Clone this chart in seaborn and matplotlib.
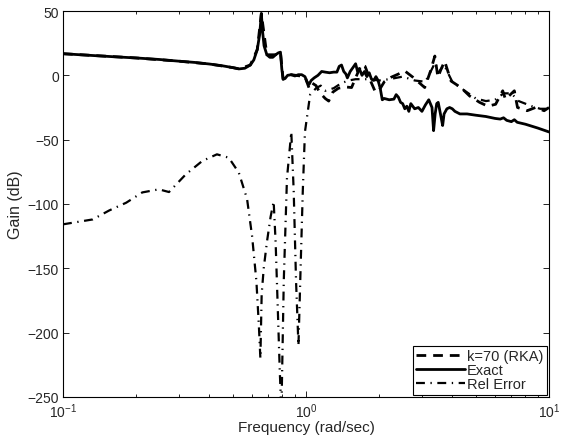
import numpy as np
import pandas as pd
import matplotlib
matplotlib.use("Agg")
import matplotlib.pyplot as plt
import seaborn as sns
from matplotlib.ticker import LogLocator, NullFormatter

# ---- data ----
exact_f = [0.1, 0.13, 0.16, 0.2, 0.25, 0.3, 0.35, 0.4, 0.45, 0.5, 0.53, 0.56, 0.59, 0.61,
           0.63, 0.645, 0.655, 0.662, 0.672, 0.69, 0.71, 0.73, 0.75, 0.77, 0.785, 0.795,
           0.805, 0.82, 0.84, 0.87, 0.9, 0.93, 0.96, 0.99, 1.01, 1.03, 1.05, 1.08, 1.12,
           1.16, 1.2, 1.25, 1.3, 1.34, 1.37, 1.4, 1.43, 1.46, 1.48, 1.52, 1.56, 1.6, 1.63,
           1.66, 1.7, 1.74, 1.78, 1.82, 1.86, 1.9, 1.94, 1.98, 2.02, 2.06, 2.1, 2.2, 2.3,
           2.35, 2.4, 2.45, 2.5, 2.55, 2.6, 2.65, 2.7, 2.8, 2.9, 3.0, 3.1, 3.2, 3.3, 3.35,
           3.4, 3.45, 3.5, 3.55, 3.6, 3.65, 3.7, 3.8, 3.9, 4.0, 4.1, 4.3, 4.6, 5.0, 5.5,
           6.0, 6.3, 6.5, 6.7, 7.0, 7.2, 7.4, 8.0, 9.0, 10.0]
exact_db = [16.8, 15.5, 14.5, 13.5, 12.3, 11.0, 10.0, 8.8, 7.5, 6.0, 5.0, 5.5, 8.0, 12.0,
            20.0, 32.0, 48.0, 35.0, 23.0, 16.0, 14.0, 14.0, 16.0, 17.5, 18.0, 5.0,
            -3.0, -2.5, 0.0, 0.5, -0.5, 0.5, 0.5, -1.0, -5.0, -7.0, -4.0, -2.0, 0.0,
            3.0, 2.5, 2.0, 2.5, 2.5, 7.0, 8.0, 3.0, 1.0, -2.0, 3.0, 6.0, 9.0, 3.0,
            5.0, 0.0, 3.0, -1.0, 2.0, -3.0, -4.0, -1.0, -4.0, -10.0, -19.0, -18.0, -19.0, -18.5,
            -15.0, -17.0, -21.0, -22.0, -26.0, -24.0, -28.0, -22.0, -26.0, -25.0, -28.0, -23.0, -19.0, -25.0, -43.0,
            -30.0, -22.0, -21.0, -27.0, -33.0, -39.0, -30.0, -26.0, -25.0, -26.0, -28.0, -30.0, -30.0, -31.0, -32.0,
            -33.5, -34.0, -33.0, -35.0, -36.0, -34.5, -36.5, -38.0, -41.0, -44.0]

rka_f = [0.1, 0.2, 0.3, 0.4, 0.5, 0.53, 0.59, 0.63, 0.655, 0.69, 0.75, 0.785, 0.805, 0.87,
         0.99, 1.03, 1.06, 1.1, 1.14, 1.2, 1.24, 1.29, 1.36, 1.45, 1.54, 1.6, 1.69, 1.75,
         1.85, 1.92, 1.98, 2.1, 2.24, 2.4, 2.55, 2.76, 3.08, 3.25, 3.39, 3.49, 3.6, 3.72,
         3.95, 4.34, 4.71, 5.18, 5.6, 6.03, 6.45, 6.62, 7.2, 7.42, 8.13, 8.8, 9.55, 10.0]
rka_db = [16.8, 13.5, 11.0, 8.8, 6.0, 5.0, 8.0, 20.0, 48.0, 16.0, 16.0, 18.0, -3.0, 0.5,
          -1.0, -10.0, -6.0, -8.0, -13.5, -18.0, -20.0, -13.0, -10.0, -9.0, -9.5, -2.0, 8.5, 7.0,
          -5.0, -12.0, -13.0, -5.0, -1.5, 1.0, 3.4, -1.6, -9.5, 3.0, 15.0, -1.5, 5.0, 11.0,
          -4.4, -9.5, -16.0, -21.0, -24.0, -22.5, -12.0, -18.6, -12.0, -25.0, -27.5, -25.0, -27.5, -25.0]

err_f = [0.1, 0.1325, 0.155, 0.182, 0.212, 0.248, 0.273, 0.32, 0.374, 0.43, 0.481, 0.529,
         0.572, 0.6, 0.625, 0.64, 0.649, 0.657, 0.67, 0.69, 0.715, 0.736, 0.75, 0.765,
         0.78, 0.792, 0.81, 0.835, 0.87, 0.89, 0.91, 0.931, 0.95, 0.97, 0.99, 1.04, 1.1,
         1.15, 1.2, 1.3, 1.4, 1.5, 1.6, 1.8, 2.0, 2.2, 2.5, 2.8, 3.1, 3.3, 3.4, 3.5, 3.7,
         4.0, 4.5, 5.0, 5.5, 6.0, 6.5, 7.0, 7.5, 8.5, 9.2, 10.0]
err_db = [-115.8, -112.0, -105.0, -99.0, -91.0, -88.6, -90.7, -77.0, -66.6, -61.4, -64.0, -75.6,
          -96.0, -125.0, -160.0, -195.0, -220.0, -170.0, -150.0, -130.0, -110.0, -98.0, -130.0, -180.0,
          -230.0, -262.0, -160.0, -80.0, -44.0, -90.0, -160.0, -210.0, -150.0, -90.0, -44.0, -15.0, -10.0,
          -8.0, -12.0, -10.0, -6.0, -4.0, -3.0, -3.0, -4.0, -3.0, -1.0, -4.0, -5.0, 5.0, 10.0, 2.0, 8.0,
          -5.0, -12.0, -18.0, -20.0, -19.0, -14.0, -14.0, -20.0, -24.0, -26.0, -26.0]

labels = ["k=70 (RKA)", "Exact", "Rel Error"]
xticks = [0.1, 1, 10]
yticks = [50, 0, -50, -100, -150, -200, -250]

# ---- style ----
sns.set_style("ticks")
plt.rcParams["font.family"] = ["Liberation Sans", "DejaVu Sans"]
plt.rcParams["mathtext.fontset"] = "custom"
plt.rcParams["mathtext.rm"] = "Liberation Sans"
plt.rcParams["mathtext.it"] = "Liberation Sans"
plt.rcParams["mathtext.default"] = "regular"

fig = plt.figure(figsize=(5.63, 4.39), dpi=100)
ax = fig.add_axes([63 / 563, 1 - 398 / 439, (549 - 63) / 563, (398 - 12) / 439])

df_exact = pd.DataFrame({"f": exact_f, "g": exact_db})
df_rka = pd.DataFrame({"f": rka_f, "g": rka_db})
df_err = pd.DataFrame({"f": err_f, "g": err_db})

sns.lineplot(data=df_rka, x="f", y="g", ax=ax, color="black", lw=2.0,
             estimator=None, sort=False)
sns.lineplot(data=df_exact, x="f", y="g", ax=ax, color="black", lw=2.0,
             estimator=None, sort=False)
sns.lineplot(data=df_err, x="f", y="g", ax=ax, color="black", lw=1.6,
             estimator=None, sort=False)
lines = ax.get_lines()
lines[0].set_dashes((3.5, 2.5))
lines[2].set_dashes((4, 2.5, 0.6, 2.5))

ax.set_xscale("log")
ax.set_xlim(0.1, 10)
ax.set_ylim(-250, 50)
ax.set_xticks(xticks)
ax.xaxis.set_minor_locator(LogLocator(base=10, subs=np.arange(2, 10)))
ax.xaxis.set_minor_formatter(NullFormatter())
ax.set_yticks(yticks)
ax.set_yticklabels([str(v).replace("-", "\u2212") for v in yticks])

ax.tick_params(which="both", direction="in", top=True, right=True, labelsize=10,
               width=0.6, color="black", pad=3)
ax.tick_params(which="major", length=4)
ax.tick_params(which="minor", length=2)
for s in ax.spines.values():
    s.set_linewidth(0.8)
    s.set_color("black")

ax.set_xlabel("Frequency (rad/sec)", fontsize=11, labelpad=0)
ax.set_ylabel("Gain (dB)", fontsize=11.5, labelpad=3)

leg = ax.legend([lines[0], lines[1], lines[2]], labels, loc="lower right",
                fontsize=10.5, frameon=True, fancybox=False, framealpha=1,
                edgecolor="black", borderaxespad=0.15, handlelength=3.3,
                labelspacing=0.0, handletextpad=0.15, borderpad=0.25)
leg.get_frame().set_linewidth(0.8)

fig.savefig("out.png", dpi=100)
